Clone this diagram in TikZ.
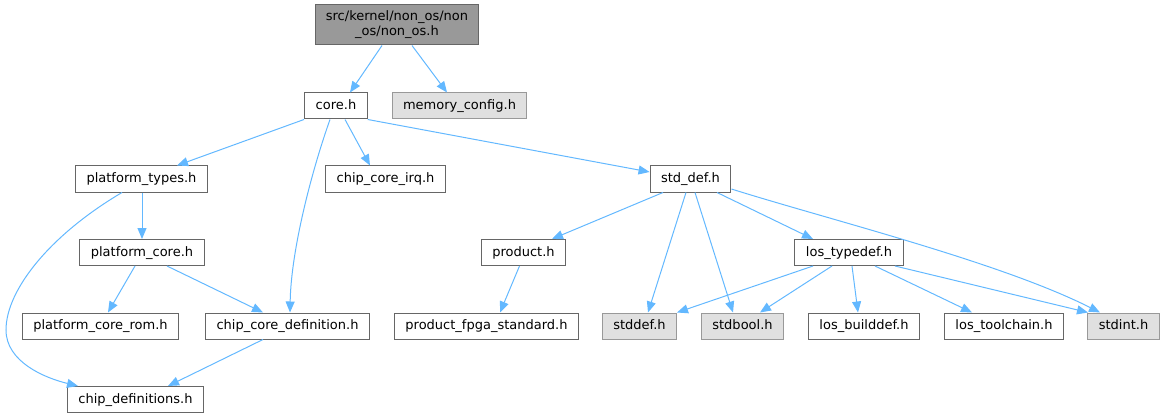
\documentclass[tikz,border=0pt]{standalone}
\usepackage{fontspec}
\setmainfont{DejaVu Sans}
\usetikzlibrary{arrows.meta}
\definecolor{edgeblue}{HTML}{63B8FF}
\definecolor{boxgrey}{HTML}{666666}
\definecolor{sysgrey}{HTML}{999999}
\definecolor{sysfill}{HTML}{E0E0E0}

\begin{document}
\begin{tikzpicture}[x=1pt,y=-1pt,font=\fontsize{13}{15}\selectfont,
  hdr/.style={draw=boxgrey,fill=white,line width=1pt,inner xsep=11pt,inner ysep=0pt,
    minimum height=26pt,text height=10pt,text depth=3pt},
  syshdr/.style={hdr,draw=sysgrey,fill=sysfill},
  roothdr/.style={draw=boxgrey,fill=sysgrey,line width=1pt,align=center,inner xsep=10pt,minimum height=40pt},
  inc/.style={draw=edgeblue,line width=1pt,-{Triangle[length=11pt,width=9pt]}}]
\useasboundingbox (0,0) rectangle (1165,417);
% Files, row by row.
\node[roothdr] (root) at (397,25) {src/kernel/non\_os/non\\\_os/non\_os.h};
\node[hdr] (core) at (336,106) {core.h};
\node[syshdr] (memcfg) at (459.5,106) {memory\_config.h};
\node[hdr] (ptypes) at (141.5,179) {platform\_types.h};
\node[hdr] (irq) at (385.5,179) {chip\_core\_irq.h};
\node[hdr] (stddefh) at (690.5,179) {std\_def.h};
\node[hdr] (pcore) at (142,252.5) {platform\_core.h};
\node[hdr] (product) at (523.5,252.5) {product.h};
\node[hdr] (lostd) at (849,252.5) {los\_typedef.h};
\node[hdr] (pcorerom) at (100.5,326) {platform\_core\_rom.h};
\node[hdr] (ccdef) at (287.5,326) {chip\_core\_definition.h};
\node[hdr] (fpga) at (486.5,326) {product\_fpga\_standard.h};
\node[syshdr] (stddef) at (639.5,326) {stddef.h};
\node[syshdr] (stdbool) at (742.5,326) {stdbool.h};
\node[hdr] (builddef) at (864,326) {los\_builddef.h};
\node[hdr] (toolchain) at (1004,326) {los\_toolchain.h};
\node[syshdr] (stdint) at (1123.5,326) {stdint.h};
\node[hdr] (chipdefs) at (135.5,399.5) {chip\_definitions.h};
% Straight includes, bottom of one box to top of the next.
\foreach \a/\sa/\b/\sb in {root/-15/core/14, root/15/memcfg/-12.5, core/-32/ptypes/35.5,
  core/9/irq/-15.5, ptypes/0.5/pcore/0, pcore/-7/pcorerom/7.5, pcore/25/ccdef/-24.5,
  ccdef/-24.5/chipdefs/32.5, stddefh/-27.5/product/28.5, stddefh/-4.5/stddef/8.5,
  stddefh/4.5/stdbool/-9.5, stddefh/26.5/lostd/-36, product/-4/fpga/13.5,
  lostd/-36/stddef/37.5, lostd/-17/stdbool/17.5, lostd/3/builddef/-6,
  lostd/26/toolchain/-32, lostd/46/stdint/-35.5}
  \draw[inc] ([xshift=\sa pt]\a.south) -- ([xshift=\sb pt]\b.north);
% The remaining ones.
\draw[inc] (core.south east) -- ([yshift=7pt]stddefh.west);
\draw[inc] ([xshift=-6pt]core.south) .. controls (312,170) and (291,250) .. ([xshift=2.5pt]ccdef.north);
\draw[inc] ([xshift=-19.5pt]ptypes.south) .. controls (50,235) and (6,290) .. (6,330)
  .. controls (6,362) and (45,378) .. ([xshift=-57.5pt]chipdefs.north);
\draw[inc] ([yshift=-10pt]stddefh.east) .. controls (830,220) and (1000,262) .. ([xshift=-23.5pt]stdint.north);
\end{tikzpicture}
\end{document}
